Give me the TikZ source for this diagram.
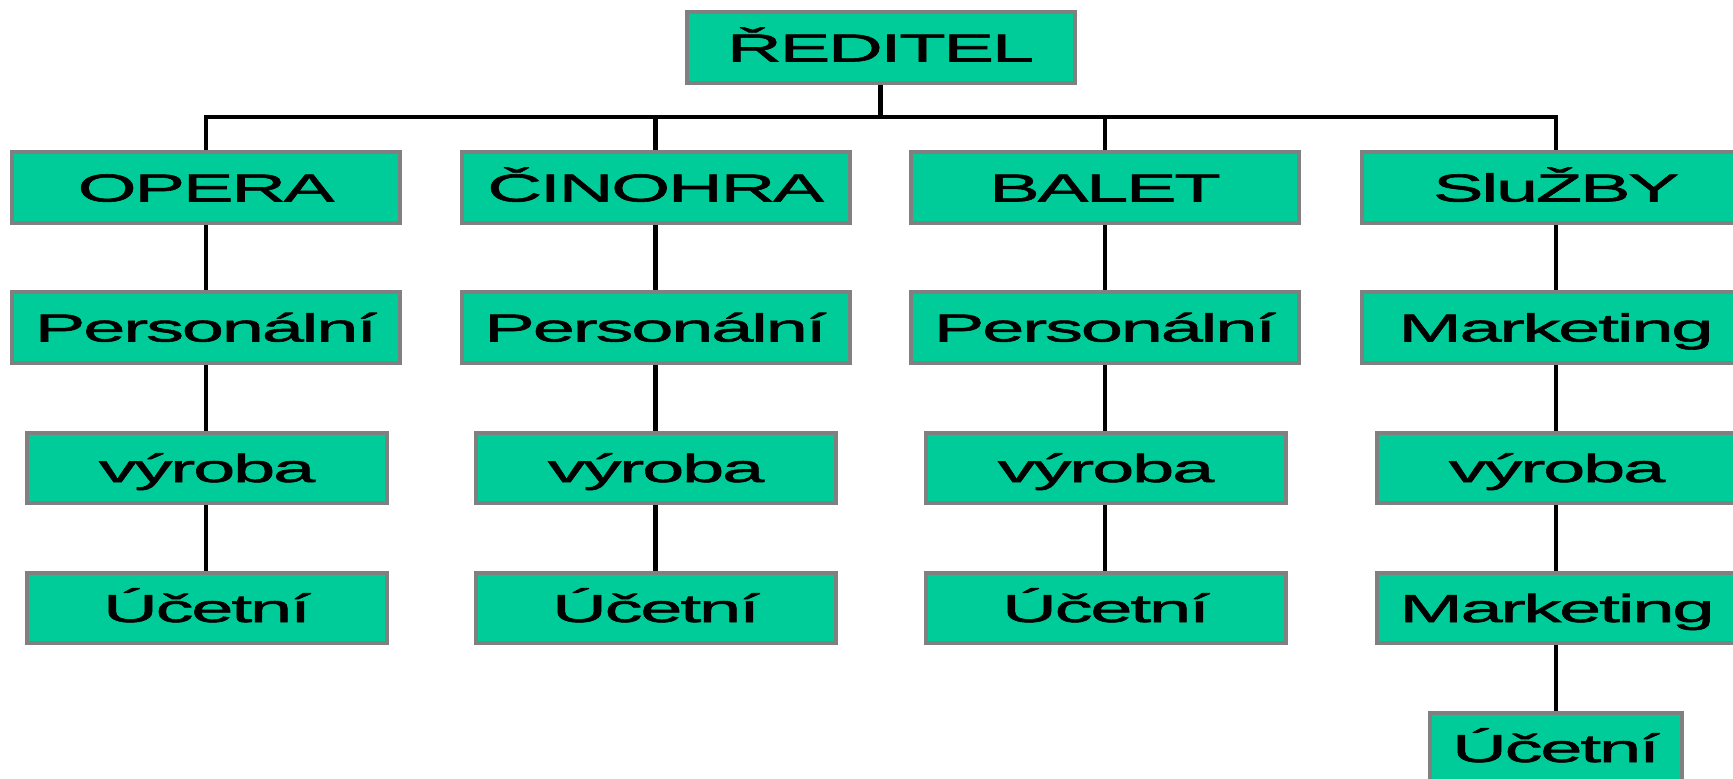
\documentclass[tikz,border=0pt]{standalone}
\usepackage{fontspec}
\setmainfont{Liberation Sans}
\newfontfamily\widesans[FakeStretch=1.95,LetterSpace=-6,FakeBold=1.5]{Liberation Sans}
\usepackage{tikz}
\definecolor{boxgreen}{RGB}{0,204,153}
\definecolor{boxrim}{RGB}{128,128,128}
\tikzset{
  unit/.style={draw=boxrim,line width=4pt,fill=boxgreen,inner sep=0pt,
    minimum width=388pt,minimum height=71pt,text height=28pt,text depth=0pt,
    font=\widesans\fontsize{39}{47}\selectfont},
  sub/.style={unit,minimum width=360pt,minimum height=70pt},
  link/.style={line width=4.5pt}
}

\begin{document}
\begin{tikzpicture}[x=1pt,y=-1pt]
    \path[use as bounding box,clip] (0,0) rectangle (1733,779);
    \node[unit] (R) at (880.5,47.5) {ŘEDITEL};
    \node[unit] (O) at (206,187.5) {OPERA};
    \node[unit] (C) at (655.5,187.5) {ČINOHRA};
    \node[unit] (B) at (1105,187.5) {BALET};
    \node[unit] (S) at (1556,187.5) {SluŽBY};
    \node[unit] (O1) at (206,327.5) {Personální};
    \node[unit] (C1) at (655.5,327.5) {Personální};
    \node[unit] (B1) at (1105,327.5) {Personální};
    \node[unit] (S1) at (1556,327.5) {Marketing};
    \node[sub] (O2) at (207,468) {výroba};
    \node[sub] (C2) at (656,468) {výroba};
    \node[sub] (B2) at (1106,468) {výroba};
    \node[sub] (S2) at (1557,468) {výroba};
    \node[sub] (O3) at (207,608) {Účetní};
    \node[sub] (C3) at (656,608) {Účetní};
    \node[sub] (B3) at (1106,608) {Účetní};
    \node[sub] (S3) at (1557,608) {Marketing};
    \node[sub,minimum width=252pt] (S4) at (1556,748) {Účetní};
    \coordinate (bar) at (880.5,117);
    \draw[link] (R.south) -- (bar);
    \draw[link] (O.north) |- (bar) -| (S.north);
    \draw[link] (C.north) -- (C.north |- bar);
    \draw[link] (B.north) -- (B.north |- bar);
    \draw[link] (O.south) -- (O1.north) (O1.south) -- (O1.south |- O2.north)
      (O1.south |- O2.south) -- (O1.south |- O3.north);
    \draw[link] (C.south) -- (C1.north) (C1.south) -- (C1.south |- C2.north)
      (C1.south |- C2.south) -- (C1.south |- C3.north);
    \draw[link] (B.south) -- (B1.north) (B1.south) -- (B1.south |- B2.north)
      (B1.south |- B2.south) -- (B1.south |- B3.north);
    \draw[link] (S.south) -- (S1.north) (S1.south) -- (S1.south |- S2.north)
      (S1.south |- S2.south) -- (S1.south |- S3.north)
      (S1.south |- S3.south) -- (S4.north);
  \end{tikzpicture}
\end{document}
